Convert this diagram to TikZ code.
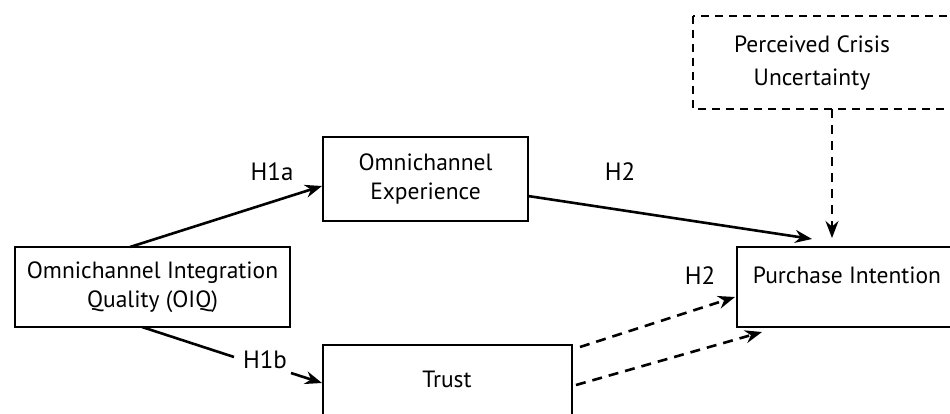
\documentclass[tikz,border=0pt]{standalone}
\usepackage{fontspec}
\setmainfont{PT Sans}
\usetikzlibrary{arrows.meta}
\begin{document}
\begin{tikzpicture}[x=1pt,y=-1pt,
  box/.style={draw,line width=1.8pt,align=center,font=\fontsize{23.5}{29.5}\selectfont},
  dbox/.style={draw,line width=1.5pt,dash pattern=on 8pt off 6pt},
  lbl/.style={font=\fontsize{25}{28}\selectfont},
  arr/.style={line width=2.6pt,-{Stealth[length=17pt,width=13pt]}},
  darr/.style={line width=2.6pt,dash pattern=on 10pt off 7pt,-{Stealth[length=17pt,width=13pt]}}]
\useasboundingbox (0,0) rectangle (950,414);
\begin{scope}
\clip (0,0) rectangle (950,414);
% boxes
\draw[box] (15,247) rectangle (290,327);
\node[box,draw=none] (oiq) at (152.5,287) {Omnichannel Integration\\Quality (OIQ)};
\coordinate (oiqT) at (130,247);
\coordinate (oiqB) at (142,327);
\draw[box] (323,137) rectangle (528,221);
\node[box,draw=none] (exp) at (425.5,179) {Omnichannel\\Experience};
\draw[box] (323,345) rectangle (572,440);
\node[box,draw=none] (trust) at (447,379) {Trust};
\draw[box] (737,247) rectangle (960,327);
\node[box,draw=none] (pi) at (847,275) {Purchase Intention};
\draw[dbox] (693,16) rectangle (965,109);
\node[box,draw=none,font=\fontsize{23.5}{33}\selectfont] (pcu) at (812,63) {Perceived Crisis\\Uncertainty};
% coordinates
\coordinate (expL) at (322,186);
\coordinate (expR) at (528,196);
\coordinate (piA) at (812,239);
\coordinate (pcuB) at (832,109);
\coordinate (piT) at (832,238);
\coordinate (h1bE) at (234,357);
\coordinate (h1bS) at (291,373);
\coordinate (trL) at (322,383);
\coordinate (t1) at (580,347);
\coordinate (p1) at (735,297);
\coordinate (t2) at (576,385);
\coordinate (p2) at (762,332);
% connectors
\draw[arr] (oiqT) -- (expL);
\draw[line width=2.6pt] (oiqB) -- (h1bE);
\draw[arr] (h1bS) -- (trL);
\draw[arr] (expR) -- (piA);
\draw[line width=2pt,dash pattern=on 9pt off 7pt,-{Stealth[length=17pt,width=13pt]}] (pcuB) -- (piT);
\draw[darr] (t1) -- (p1);
\draw[darr] (t2) -- (p2);
% labels
\node[lbl] (h1a) at (272,172) {H1a};
\node[lbl] (h1b) at (265,360) {H1b};
\node[lbl] (h2a) at (620,172) {H2};
\node[lbl] (h2b) at (700,276) {H2};
\end{scope}
\end{tikzpicture}
\end{document}
